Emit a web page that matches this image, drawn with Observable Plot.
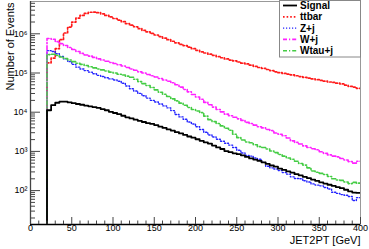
<!DOCTYPE html>
<html><head><meta charset="utf-8">
<script src="https://cdn.jsdelivr.net/npm/d3@7"></script>
<script src="https://cdn.jsdelivr.net/npm/@observablehq/plot@0.6"></script>
<style>
body{margin:0;background:#fff;}
#chart{position:relative;width:369px;height:249px;overflow:hidden;}
</style>
</head><body><div id="chart"></div>
<script>
// bin lower edges (GeV), 5 GeV wide, 20..395
const bins = [20,25,30,35,40,45,50,55,60,65,70,75,80,85,90,95,100,105,110,115,120,125,130,135,140,145,150,155,160,165,170,175,180,185,190,195,200,205,210,215,220,225,230,235,240,245,250,255,260,265,270,275,280,285,290,295,300,305,310,315,320,325,330,335,340,345,350,355,360,365,370,375,380,385,390,395];
const xMax = 400;

const signal = [11200,15100,17400,18600,18600,17800,17000,16200,15500,14800,14100,13500,12900,12000,11200,10200,9550,8910,8130,7410,6920,6460,6030,5620,5250,5010,4680,4270,3980,3630,3390,3090,2880,2630,2400,2240,2040,1860,1700,1580,1410,1260,1150,1020,955,891,851,794,724,661,617,575,525,479,437,407,363,339,309,288,263,245,224,209,191,178,162,151,141,132,123,115,105,95,89,87];
const ttbar = [182000,240000,417000,708000,1047000,1479000,1995000,2512000,2951000,3311000,3548000,3590000,3467000,3236000,2951000,2692000,2455000,2239000,2042000,1820000,1660000,1514000,1349000,1230000,1122000,1023000,933000,851000,776000,708000,646000,589000,537000,501000,457000,417000,380000,347000,324000,302000,282000,263000,245000,229000,214000,204000,191000,178000,170000,158000,148000,138000,132000,123000,115000,107000,102000,97700,93300,89100,85100,81300,77600,74100,70800,67600,64600,61700,58900,57500,55000,52500,49000,45700,43700,40700];
const zj = [372000,355000,309000,263000,229000,195000,166000,141000,126000,115000,105000,95500,87100,81300,75900,70800,66100,61700,55000,46800,39800,34700,30200,26300,22900,20000,18200,16200,14500,12900,11000,8710,7590,6610,5620,5010,4270,3630,3090,2630,2340,2040,1820,1620,1450,1260,1070,912,794,759,676,631,525,417,380,355,324,288,263,224,204,200,178,166,148,138,132,120,110,91,85,79,76,71,56,66];
const wj = [759000,724000,631000,562000,501000,447000,398000,355000,316000,288000,269000,251000,229000,214000,200000,186000,174000,162000,151000,138000,126000,117500,107000,100000,91200,85100,79400,72400,66100,61700,56200,50100,43700,38000,33100,28200,24500,21400,17800,15500,13500,11700,10200,8910,8130,7410,6760,6170,5500,5130,4680,4270,3980,3630,3390,2950,2750,2510,2190,1860,1700,1550,1380,1260,1170,1100,977,891,813,759,724,661,603,550,501,562];
const wtauj = [295000,302000,282000,257000,234000,214000,195000,178000,166000,155000,145000,135000,126000,120000,112000,105000,100000,93300,89100,83200,77600,69200,60300,53700,47900,42700,37200,32400,28800,25100,21900,19500,17000,15100,13200,11700,10700,9770,7940,6460,5750,5130,4470,3890,3470,2750,2240,1950,1740,1660,1480,1320,1260,1150,1020,933,832,759,676,631,562,490,447,380,316,295,275,257,229,200,186,182,166,151,162,155];

const seriesNames = ["Signal","ttbar","Z+j","W+j","Wtau+j"];
const seriesValues = [signal, ttbar, zj, wj, wtauj];
const seriesColors = ["#000000","#ff1a1a","#2222ff","#ff22ff","#44cc44"];
const seriesDash = [null,"1.6,2","1.2,1.8","4,2,1.2,2","4,2,1.2,2"];
const seriesWidth = [1.8,1.7,1.4,1.6,1.6];
const drawOrder = [1,2,3,4,0];

const xMajor = [0,50,100,150,200,250,300,350,400];
const xMinor = [10,20,30,40,60,70,80,90,110,120,130,140,160,170,180,190,210,220,230,240,260,270,280,290,310,320,330,340,360,370,380,390];
const yMajor = [1e2,1e3,1e4,1e5,1e6];
const yMajorLabels = ["10\u00B2","10\u00B3","10\u2074","10\u2075","10\u2076"];
const yMinor = [20,30,40,50,60,70,80,90,200,300,400,500,600,700,800,900,2000,3000,4000,5000,6000,7000,8000,9000,2e4,3e4,4e4,5e4,6e4,7e4,8e4,9e4,2e5,3e5,4e5,5e5,6e5,7e5,8e5,9e5,2e6,3e6,4e6,5e6,6e6];
const yDomain = [13.65, 6.67e6];

const xTitle = "JET2PT [GeV]";
const yTitle = "Number of Events";

const rows = [];
seriesNames.forEach((name, s) => {
  const v = seriesValues[s];
  rows.push({series: name, x: bins[0], y: yDomain[0]});
  bins.forEach((b, i) => rows.push({series: name, x: b, y: v[i]}));
  rows.push({series: name, x: xMax, y: v[v.length - 1]});
});

const font = "'Liberation Sans', Arial, Helvetica, sans-serif";

const marks = [
  Plot.frame({stroke: "#999", strokeWidth: 1}),
];
drawOrder.forEach(s => {
  const name = seriesNames[s];
  const opts = {
    x: "x", y: "y", curve: "step-after", clip: true,
    stroke: seriesColors[s], strokeWidth: seriesWidth[s],
    className: "series-" + s
  };
  if (seriesDash[s]) opts.strokeDasharray = seriesDash[s];
  marks.push(Plot.line(rows.filter(r => r.series === name), opts));
});
marks.push(
  Plot.ruleX([0], {stroke: "#444", strokeWidth: 1.3}),
  Plot.ruleY([yDomain[0]], {stroke: "#000", strokeWidth: 1.3}),
  Plot.axisY(yMinor, {anchor: "left", tickSize: -5, tickFormat: () => "", stroke: "#444", label: null}),
  Plot.axisY(yMajor, {anchor: "left", tickSize: -10, tickPadding: 13, stroke: "#444", label: null,
    tickFormat: d => yMajorLabels[yMajor.indexOf(d)], fontSize: 9, fill: "#000"}),
  Plot.axisX(xMinor, {anchor: "bottom", tickSize: -3.5, tickFormat: () => "", stroke: "#444", label: null}),
  Plot.axisX(xMajor, {anchor: "bottom", tickSize: -7, tickPadding: 7, stroke: "#444", label: null,
    tickFormat: d => String(d), fontSize: 9, fill: "#000"}),
  Plot.text([yTitle], {frameAnchor: "top-left", rotate: -90, textAnchor: "end", dx: -24, dy: 1, fontSize: 11, fill: "#000"}),
  Plot.text([xTitle], {frameAnchor: "bottom-right", textAnchor: "end", dy: 19, fontSize: 11, fill: "#000"})
);

const chart = Plot.plot({
  width: 369, height: 249,
  marginLeft: 30, marginRight: 9, marginTop: 1, marginBottom: 25,
  style: {fontFamily: font, background: "#fff", overflow: "visible"},
  x: {domain: [0, xMax], label: null},
  y: {type: "log", domain: yDomain, label: null},
  marks
});
document.getElementById("chart").appendChild(chart);

// make sure dash patterns reach the drawn paths
seriesNames.forEach((n, s) => {
  if (seriesDash[s]) d3.select(chart).selectAll(".series-" + s + " path").attr("stroke-dasharray", seriesDash[s]);
});

// legend
const svg = d3.select(chart);
const lg = svg.append("g").attr("font-family", font).attr("text-anchor", "start");
lg.append("rect").attr("x", 279.5).attr("y", 0.5).attr("width", 81).attr("height", 56.5)
  .attr("fill", "#fff").attr("stroke", "#888");
seriesNames.forEach((n, i) => {
  const y = 5.5 + i * 11.3;
  const ln = lg.append("line").attr("x1", 283).attr("x2", 297).attr("y1", y).attr("y2", y)
    .attr("stroke", seriesColors[i]).attr("stroke-width", seriesWidth[i]);
  if (seriesDash[i]) ln.attr("stroke-dasharray", seriesDash[i]);
  lg.append("text").attr("x", 300).attr("y", y).attr("dy", "0.36em").attr("text-anchor", "start")
    .attr("font-size", 10).attr("font-weight", "bold").attr("fill", "#000").text(n);
});
</script>
</body></html>
